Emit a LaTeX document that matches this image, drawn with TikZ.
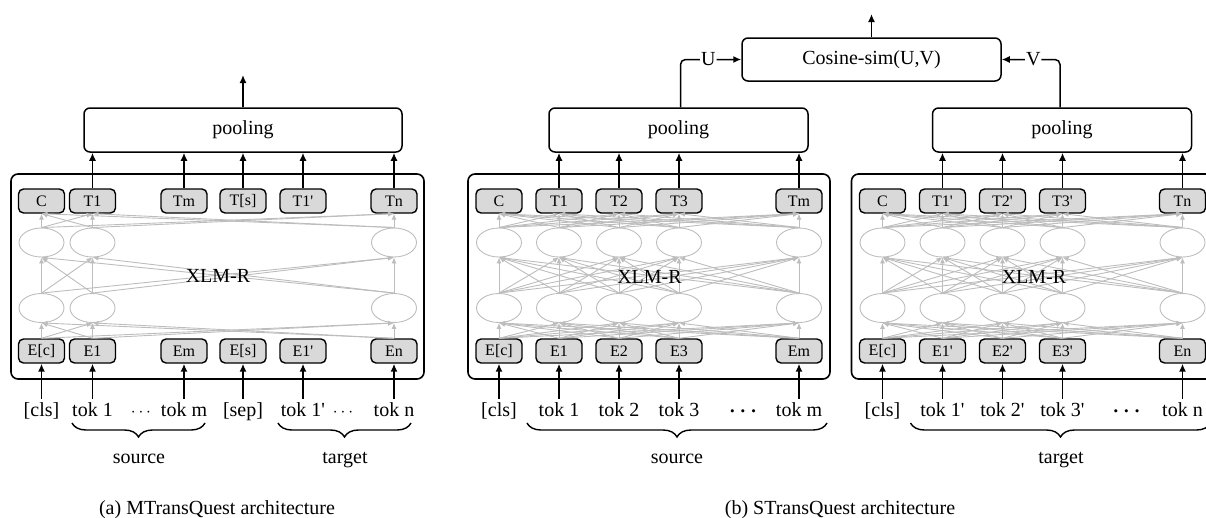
\documentclass[tikz,border=0pt]{standalone}
\usepackage{bm}
\usepackage{fontspec}
\setmainfont{Liberation Serif}
\usetikzlibrary{arrows.meta,decorations.pathreplacing,shapes.geometric}
\definecolor{cellgray}{HTML}{D9D9D9}
\definecolor{netgray}{HTML}{BDBDBD}
\newcommand\heavydots{$\bm{\cdots}$}
\newcommand\pr{\textquotesingle}
\begin{document}
\begin{tikzpicture}[x=1pt,y=-1pt,
  cell/.style={draw,fill=cellgray,rounded corners=5pt,line width=1.4pt,minimum width=46pt,minimum height=24pt,inner sep=0pt,font=\fontsize{16}{18}\selectfont},
  neuron/.style={draw=netgray,ellipse,minimum width=45pt,minimum height=29pt,inner sep=0pt,line width=0.9pt},
  wire/.style={draw=netgray,line width=0.9pt,-{Latex[length=6pt,width=5pt]}},
  feed/.style={draw,line width=1.5pt,-{Latex[length=8pt,width=7pt]}},
  frame/.style={draw,rounded corners=7pt,line width=1.6pt,minimum height=205pt,inner sep=0pt},
  block/.style={draw,rounded corners=6pt,line width=1.5pt,minimum height=44pt,inner sep=0pt,font=\fontsize{20}{22}\selectfont},
  tok/.style={font=\fontsize{20}{22}\selectfont,text height=14pt,text depth=4pt,inner sep=3pt,anchor=base},
  thindots/.style={font=\fontsize{17}{20}\selectfont,inner sep=0pt,anchor=base},
  lbl/.style={font=\fontsize{20}{22}\selectfont,inner sep=0pt,anchor=base},
  brace/.style={decorate,decoration={brace,mirror,amplitude=14pt},line width=1.4pt},
  tag/.style={fill=white,inner sep=1pt,font=\fontsize{20}{22}\selectfont},
]
\useasboundingbox (0,0) rectangle (1206,517);

% ================= (a) MTransQuest =================
\node[frame,minimum width=413pt] (a-frame) at (217.5,276.5) {};
\node[block,minimum width=318pt] (a-pool) at (243,130) {pooling};
\coordinate (a-out) at (243,75);

\foreach \n/\x/\tl/\el/\wl in {0/41.5/C/E[c]/{[cls]},1/92.5/T1/E1/tok 1,2/184/Tm/Em/tok m,3/243/T[s]/E[s]/{[sep]},4/303/T1\pr/E1\pr/tok 1\pr,5/394/Tn/En/tok n}{
  \node[cell] (a-T\n) at (\x,201) {\tl};
  \node[cell] (a-E\n) at (\x,351) {\el};
  \node[tok] (a-k\n) at (\x,416) {\wl};
}
\node[thindots] (a-d1) at (141,416) {$\cdots$};
\node[thindots] (a-d2) at (343,416) {$\cdots$};

\foreach \n/\x in {0/41.5,1/92.5,5/394}{
  \node[neuron] (a-u\n) at (\x,242.5) {};
  \node[neuron] (a-l\n) at (\x,308) {};
}
\foreach \i in {0,1,5}{
  \foreach \j in {0,1,5}{
    \draw[wire] (a-E\i.north) -- (a-l\j.south);
    \draw[wire] (a-l\i.north) -- (a-u\j.south);
    \draw[wire] (a-u\i.north) -- (a-T\j.south);
  }
}
\node[lbl] (a-xlm) at (218,282) {XLM-R};

\foreach \n in {0,...,5}{\draw[feed] (a-k\n.north) -- (a-E\n.south);}
\foreach \n in {1,...,5}{\draw[feed] (a-T\n.north) -- (a-T\n.north |- a-pool.south);}
\draw[feed] (a-pool.north) -- (a-out);

\coordinate (a-bs1) at (72,423);  \coordinate (a-bs2) at (205,423);
\coordinate (a-bt1) at (278,423); \coordinate (a-bt2) at (411,423);
\draw[brace] (a-bs1) -- (a-bs2);
\draw[brace] (a-bt1) -- (a-bt2);
\node[lbl] (a-src) at (139,463) {source};
\node[lbl] (a-tgt) at (345,463) {target};
\node[lbl] (a-cap) at (217,514) {(a) MTransQuest architecture};

% ================= (b) STransQuest: source branch =================
\node[frame,minimum width=362pt] (b-frame) at (649,276.5) {};
\node[block,minimum width=259pt] (b-pool) at (678.5,130) {pooling};

\foreach \n/\x/\tl/\el/\wl in {0/499/C/E[c]/{[cls]},1/559/T1/E1/tok 1,2/619/T2/E2/tok 2,3/679/T3/E3/tok 3,4/799/Tm/Em/tok m}{
  \node[cell] (b-T\n) at (\x,201) {\tl};
  \node[cell] (b-E\n) at (\x,351) {\el};
  \node[tok] (b-k\n) at (\x,416) {\wl};
  \node[neuron] (b-u\n) at (\x,242.5) {};
  \node[neuron] (b-l\n) at (\x,308) {};
}
\node[tok] (b-d) at (743,416) {\heavydots};
\foreach \i in {0,...,4}{
  \foreach \j in {0,...,4}{
    \draw[wire] (b-E\i.north) -- (b-l\j.south);
    \draw[wire] (b-l\i.north) -- (b-u\j.south);
    \draw[wire] (b-u\i.north) -- (b-T\j.south);
  }
}
\node[lbl] (b-xlm) at (649.5,283) {XLM-R};
\foreach \n in {0,...,4}{\draw[feed] (b-k\n.north) -- (b-E\n.south);}
\foreach \n in {1,...,4}{\draw[feed] (b-T\n.north) -- (b-T\n.north |- b-pool.south);}

\coordinate (b-bs1) at (527,423); \coordinate (b-bs2) at (827,423);
\draw[brace] (b-bs1) -- (b-bs2);
\node[lbl] (b-src) at (677,463) {source};

% ================= (b) STransQuest: target branch =================
\node[frame,minimum width=362pt] (c-frame) at (1032.5,276.5) {};
\node[block,minimum width=259pt] (c-pool) at (1062,130) {pooling};

\foreach \n/\x/\tl/\el/\wl in {0/882.5/C/E[c]/{[cls]},1/942.5/T1\pr/E1\pr/tok 1\pr,2/1002.5/T2\pr/E2\pr/tok 2\pr,3/1062.5/T3\pr/E3\pr/tok 3\pr,4/1182.5/Tn/En/tok n}{
  \node[cell] (c-T\n) at (\x,201) {\tl};
  \node[cell] (c-E\n) at (\x,351) {\el};
  \node[tok] (c-k\n) at (\x,416) {\wl};
  \node[neuron] (c-u\n) at (\x,242.5) {};
  \node[neuron] (c-l\n) at (\x,308) {};
}
\node[tok] (c-d) at (1126.5,416) {\heavydots};
\foreach \i in {0,...,4}{
  \foreach \j in {0,...,4}{
    \draw[wire] (c-E\i.north) -- (c-l\j.south);
    \draw[wire] (c-l\i.north) -- (c-u\j.south);
    \draw[wire] (c-u\i.north) -- (c-T\j.south);
  }
}
\node[lbl] (c-xlm) at (1034,283) {XLM-R};
\foreach \n in {0,...,4}{\draw[feed] (c-k\n.north) -- (c-E\n.south);}
\foreach \n in {1,...,4}{\draw[feed] (c-T\n.north) -- (c-T\n.north |- c-pool.south);}

\coordinate (c-bt1) at (910.5,423); \coordinate (c-bt2) at (1210.5,423);
\draw[brace] (c-bt1) -- (c-bt2);
\node[lbl] (c-tgt) at (1061,463) {target};

% ================= similarity head =================
\node[block,minimum width=259pt,minimum height=43pt] (cos) at (871.5,59.5) {Cosine-sim(U,V)};
\coordinate (cos-out) at (871.5,14);
\draw[feed] (cos.north) -- (cos-out);
\draw[feed,rounded corners=5pt] ([xshift=2pt]b-pool.north) |- node[tag,pos=0.73] {U} (cos.west);
\draw[feed,rounded corners=5pt] ([xshift=-2pt]c-pool.north) |- node[tag,pos=0.73] {V} (cos.east);

\node[lbl] (b-cap) at (840,514) {(b) STransQuest architecture};
\end{tikzpicture}
\end{document}
